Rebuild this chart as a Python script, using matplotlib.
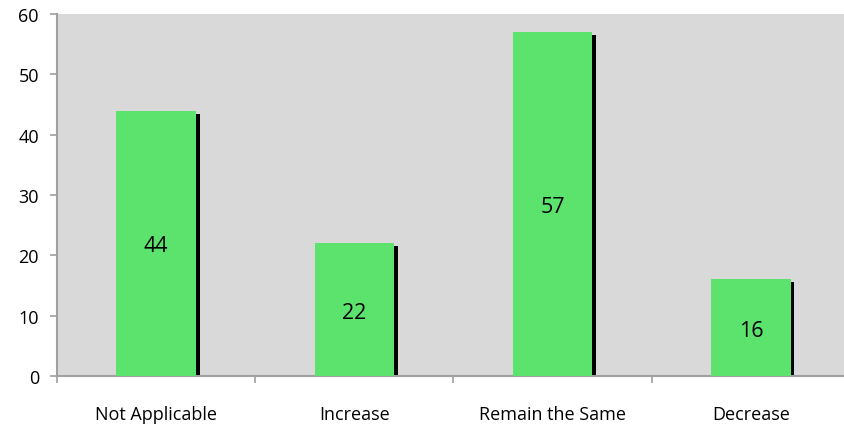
import matplotlib
matplotlib.use("Agg")
import matplotlib.pyplot as plt
import numpy as np

categories = ["Not Applicable", "Increase", "Remain the Same", "Decrease"]
values = [44, 22, 57, 16]
yticks = [0, 10, 20, 30, 40, 50, 60]

plt.rcParams['font.family'] = ['Open Sans', 'DejaVu Sans']

fig = plt.figure(figsize=(8.45, 4.27), dpi=100)
ax = fig.add_axes([57/845, 1-377/427, 793/845, 362/427])
ax.set_facecolor('#D9D9D9')

x = np.arange(len(categories))
w = 0.40
ax.bar(x + 0.02, [v - 0.5 for v in values], width=w, color='black', zorder=2)
ax.bar(x, values, width=w, color='#5CE36E', zorder=3)
for xi, v in zip(x, values):
    ax.text(xi, v / 2 - 0.4, str(v), ha='center', va='center', fontsize=15.5, zorder=4)

ax.set_xlim(-0.5, 3.5)
ax.set_ylim(0, 60)
ax.set_yticks(yticks)
ax.set_xticks(x)
ax.set_xticklabels(categories, fontsize=13)
ax.set_xticks(np.arange(-0.5, 4.0, 1.0), minor=True)
ax.tick_params(axis='x', which='major', length=0, pad=21)
ax.tick_params(axis='x', which='minor', length=5, color='#A0A0A0', width=1.2)
ax.tick_params(axis='y', length=5, color='#A0A0A0', width=1.2, labelsize=13, pad=8)
for s in ['top', 'right']:
    ax.spines[s].set_visible(False)
for s in ['left', 'bottom']:
    ax.spines[s].set_color('#A0A0A0')
    ax.spines[s].set_linewidth(1.5)

fig.savefig('out.png', dpi=100, facecolor='white')
